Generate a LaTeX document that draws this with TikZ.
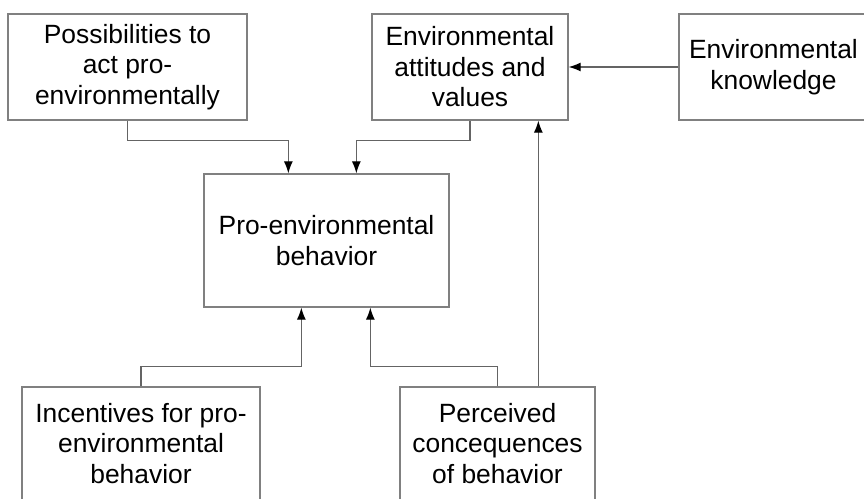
\documentclass[tikz,border=0pt]{standalone}
\usepackage{fontspec}
\setmainfont{Liberation Sans}
\usetikzlibrary{arrows.meta}
\begin{document}
\begin{tikzpicture}[x=1pt,y=1pt,
  box/.style={draw={rgb,255:red,128;green,128;blue,128}, line width=1.3pt, fill=white,
    align=center, inner sep=0pt, font=\fontsize{26.4}{30.5}\selectfont},
  arr/.style={draw={rgb,255:red,100;green,100;blue,100}, line width=1.2pt,
    -{Latex[length=12pt,width=9pt,black]}}]
\useasboundingbox (0,0) rectangle (864,498);
\clip (0,0) rectangle (864,498);
\node[box, minimum width=239pt, minimum height=106pt] (A) at (127.5,431) {Possibilities to\\act pro-\\environmentally};
\node[box, minimum width=196pt, minimum height=106pt] (B) at (470,431) {Environmental\\attitudes and\\values};
\node[box, minimum width=189pt, minimum height=106pt] (C) at (773.5,431) {Environmental\\knowledge};
\node[box, minimum width=245pt, minimum height=133pt] (P) at (326.5,257.5) {Pro-environmental\\behavior};
\node[box, minimum width=238pt, minimum height=113pt] (I) at (141,54.5) {Incentives for pro-\\environmental\\behavior};
\node[box, minimum width=195pt, minimum height=113pt] (Q) at (497.5,54.5) {Perceived\\concequences\\of behavior};
\draw[arr] (A.south) |- ([xshift=85pt,yshift=33pt]P.north west) -- ([xshift=85pt]P.north west);
\draw[arr] (B.south) |- ([xshift=153pt,yshift=33pt]P.north west) -- ([xshift=153pt]P.north west);
\draw[arr] (C.west) -- (B.east);
\draw[arr] (I.north) |- ([xshift=98pt,yshift=-59pt]P.south west) -- ([xshift=98pt]P.south west);
\draw[arr] (Q.north) |- ([xshift=167pt,yshift=-59pt]P.south west) -- ([xshift=167pt]P.south west);
\draw[arr] ([xshift=139pt]Q.north west) -- ([xshift=167pt]B.south west);
\end{tikzpicture}
\end{document}
